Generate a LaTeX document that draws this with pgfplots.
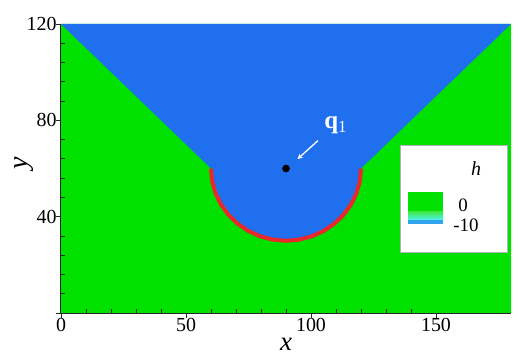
\documentclass[border=0pt]{standalone}
\usepackage{fontspec}
\setmainfont{Liberation Serif}
\usepackage{pgfplots}
\pgfplotsset{compat=1.18}
\definecolor{hgreen}{HTML}{00E100}
\definecolor{hblue}{HTML}{1F6FEF}
\definecolor{hred}{HTML}{E8282A}
\definecolor{hcyan}{HTML}{50F4F0}
\begin{document}
\begin{tikzpicture}
\begin{axis}[
 name=ax,
 scale only axis, width=450bp, height=289bp,
 xmin=0,xmax=180,ymin=0,ymax=120,
 axis x line*=bottom, axis y line*=left,
 axis line style={line width=1bp, black!85},
 xtick={0,50,100,150}, ytick={0,40,80,120}, yticklabels={,40,80,120},
 minor x tick num=4, minor y tick num=4,
 tick align=inside, major tick length=-5bp, minor tick length=4bp,
 tick style={line width=0.8bp, black!85},
 xticklabel style={font=\fontsize{20}{20}\selectfont, yshift=-2bp},
 yticklabel style={font=\fontsize{20}{20}\selectfont, xshift=-1bp},
 /pgf/number format/assume math mode=true,
 xlabel={\textit{x}}, ylabel={\textit{y}},
 xlabel style={font=\fontsize{27}{27}\selectfont, at={(axis description cs:0.5,0)}, anchor=base, yshift=-37bp},
 ylabel style={font=\fontsize{28}{28}\selectfont, at={(axis description cs:0,0.519)}, anchor=center, yshift=37bp},
 axis on top,
]
% background (h = 0)
\addplot[fill=hgreen, draw=none] coordinates {(0,0) (180,0) (180,120) (0,120) (0,0)};
% region h = -10
\addplot[fill=hblue, draw=none] coordinates {
 (0,120) (180,120) (120,60)
 (119.54,54.79) (118.19,49.74) (115.98,45) (112.98,40.72) (109.28,37.02)
 (105,34.02) (100.26,31.81) (95.21,30.46) (90,30) (84.79,30.46)
 (79.74,31.81) (75,34.02) (70.72,37.02) (67.02,40.72) (64.02,45)
 (61.81,49.74) (60.46,54.79) (60,60) (0,120)};
% red arc
\addplot[hred, line width=4bp] coordinates {
 (120,60) (119.54,54.79) (118.19,49.74) (115.98,45) (112.98,40.72) (109.28,37.02)
 (105,34.02) (100.26,31.81) (95.21,30.46) (90,30) (84.79,30.46)
 (79.74,31.81) (75,34.02) (70.72,37.02) (67.02,40.72) (64.02,45)
 (61.81,49.74) (60.46,54.79) (60,60)};
% point q1
\addplot[only marks, mark=*, mark size=3.6bp, black] coordinates {(90,60)};
\draw[white, line width=1.3bp, -stealth] (axis cs:102.8,71.6) -- (axis cs:94.6,63.9);
\node[white, font=\fontsize{25}{25}\selectfont] at (axis cs:109.8,78.0)
 {\textbf{q}\raisebox{-0.35ex}{\fontsize{17}{17}\selectfont 1}};
% legend
\draw[fill=white, draw=gray!60, line width=0.6bp] (axis cs:135.6,25.3) rectangle (axis cs:178.4,69.8);
\fill[hgreen] (axis cs:138.8,42.3) rectangle (axis cs:152.8,50.2);
\shade[top color=hgreen!75!white, bottom color=hcyan] (axis cs:138.8,38.6) rectangle (axis cs:152.8,42.3);
\fill[hblue!60!hcyan] (axis cs:138.8,37.0) rectangle (axis cs:152.8,38.6);
\node[font=\fontsize{20}{20}\selectfont\itshape] at (axis cs:166,59.8) {h};
\node[font=\fontsize{19}{19}\selectfont] at (axis cs:160.8,44.6) {0};
\node[font=\fontsize{19}{19}\selectfont] at (axis cs:162,36.6) {-10};
\end{axis}
\pgfresetboundingbox
\path[use as bounding box] ([shift={(-61bp,-43bp)}]ax.south west) rectangle ++(518bp,356bp);
\end{tikzpicture}
\end{document}
